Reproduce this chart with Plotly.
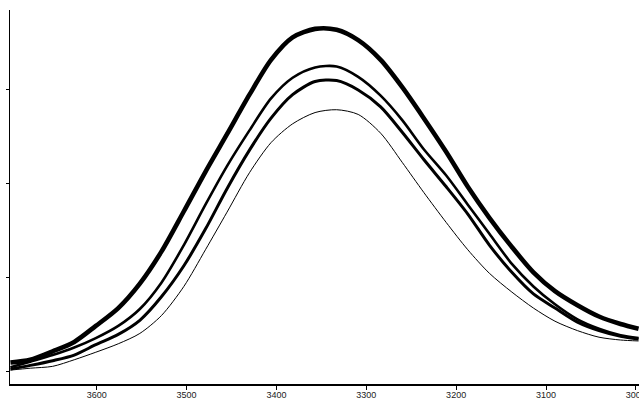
import plotly.graph_objects as go

# wavenumber (cm-1) sample positions
wavenumber = [3696, 3674, 3649, 3625, 3601, 3576, 3552, 3528, 3503, 3479,
              3455, 3430, 3406, 3382, 3357, 3333, 3309, 3284, 3260, 3236,
              3211, 3187, 3163, 3138, 3114, 3090, 3065, 3041, 3017, 2997]

# group A: top bundle of spectra
group_a = [0.010, 0.013, 0.022, 0.032, 0.049, 0.068, 0.094, 0.128, 0.171, 0.213,
           0.253, 0.295, 0.332, 0.356, 0.365, 0.364, 0.353, 0.332, 0.303, 0.270,
           0.234, 0.197, 0.164, 0.133, 0.106, 0.086, 0.071, 0.059, 0.051, 0.046]
# group B: second bundle
group_b = [0.005, 0.011, 0.018, 0.026, 0.036, 0.049, 0.067, 0.095, 0.135, 0.178,
           0.219, 0.257, 0.291, 0.313, 0.324, 0.325, 0.314, 0.294, 0.268, 0.237,
           0.209, 0.178, 0.147, 0.115, 0.091, 0.072, 0.056, 0.046, 0.039, 0.036]
# group C: third bundle
group_c = [0.003, 0.007, 0.012, 0.018, 0.029, 0.040, 0.055, 0.080, 0.113, 0.152,
           0.195, 0.236, 0.270, 0.295, 0.309, 0.310, 0.300, 0.282, 0.255, 0.226,
           0.197, 0.168, 0.135, 0.106, 0.083, 0.068, 0.053, 0.044, 0.038, 0.035]
# group D: single lowest spectrum
group_d = [0.002, 0.004, 0.006, 0.013, 0.021, 0.030, 0.041, 0.060, 0.091, 0.130,
           0.170, 0.212, 0.244, 0.264, 0.276, 0.279, 0.274, 0.254, 0.223, 0.191,
           0.159, 0.130, 0.105, 0.085, 0.068, 0.054, 0.044, 0.037, 0.034, 0.033]

x_ticks = [3600, 3500, 3400, 3300, 3200, 3100, 3000]
x_tick_labels = ["3600", "3500", "3400", "3300", "3200", "3100", "3000"]
y_ticks = [0.0, 0.1, 0.2, 0.3]

fig = go.Figure()
for vals, w in [(group_d, 1.0), (group_c, 3.0), (group_b, 2.6), (group_a, 4.6)]:
    fig.add_trace(go.Scatter(
        x=wavenumber, y=vals, mode="lines",
        line=dict(color="black", width=w, shape="spline", smoothing=0.8),
        showlegend=False, hoverinfo="skip"))

fig.update_layout(
    width=639, height=406,
    margin=dict(l=10, r=0, t=10, b=22),
    paper_bgcolor="white", plot_bgcolor="white",
    font=dict(family="Liberation Sans, Arial, sans-serif", size=9, color="#222222"),
)
fig.update_xaxes(
    range=[3696.5, 2996.5], tickvals=x_ticks, ticktext=x_tick_labels,
    showgrid=False, zeroline=False, showline=True, linecolor="black", linewidth=1.5,
    ticks="outside", ticklen=4, tickcolor="black", tickwidth=1,
    ticklabelstandoff=-3, ticklabeloverflow="allow", automargin=False,
)
fig.update_yaxes(
    range=[-0.0128, 0.3851], tickvals=y_ticks, showticklabels=False,
    showgrid=False, zeroline=False, showline=True, linecolor="black", linewidth=1,
    ticks="outside", ticklen=3, tickcolor="black", tickwidth=1, automargin=False,
)

# remove the default page margin so the figure fills the window exactly
fig.write_html(
    "out.html",
    config={"displayModeBar": False},
    post_script="document.body.style.margin='0';"
                "document.body.style.overflow='hidden';"
                "document.documentElement.style.overflow='hidden';",
)
